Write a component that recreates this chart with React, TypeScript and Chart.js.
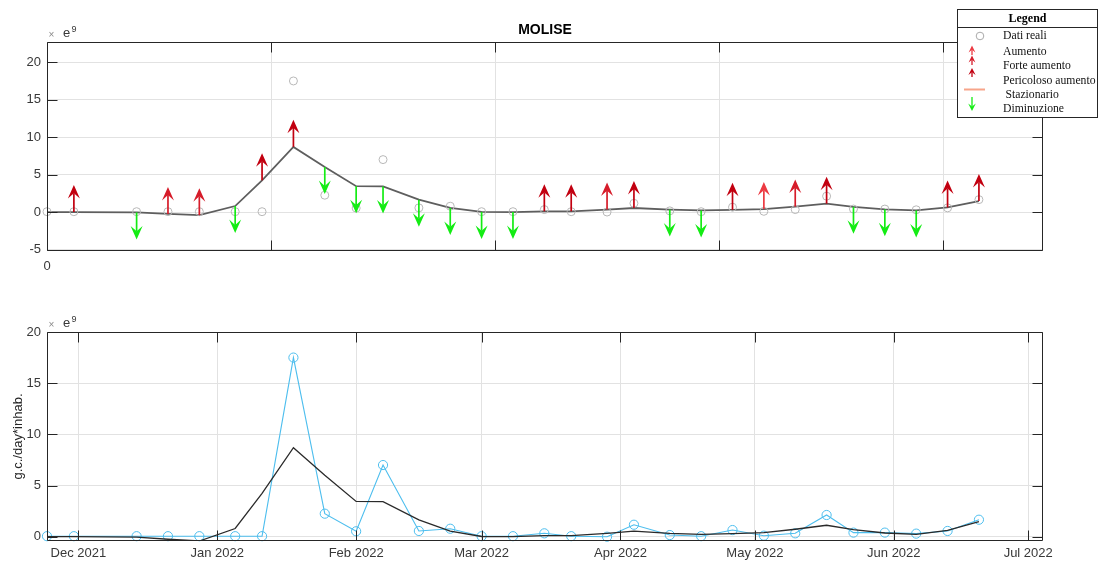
import React, { useEffect, useRef } from 'react';
import { Chart, registerables } from 'chart.js';

Chart.register(...registerables);

// ---------- data ----------
const START_DATE = '2021-11-24';
const END_DATE = '2022-07-04';
const SAMPLE_DATES = [
  '2021-11-24', '2021-11-30', '2021-12-14', '2021-12-21', '2021-12-28',
  '2022-01-05', '2022-01-11', '2022-01-18', '2022-01-25', '2022-02-01',
  '2022-02-07', '2022-02-15', '2022-02-22', '2022-03-01', '2022-03-08',
  '2022-03-15', '2022-03-21', '2022-03-29', '2022-04-04', '2022-04-12',
  '2022-04-19', '2022-04-26', '2022-05-03', '2022-05-10', '2022-05-17',
  '2022-05-23', '2022-05-30', '2022-06-06', '2022-06-13', '2022-06-20',
];
// values in units of 1e9 g.c./day*inhab.
const REAL_VALUES = [
  0.05, 0.05, 0.05, 0.05, 0.05, 0.05, 0.05, 17.5, 2.25, 0.53,
  7.0, 0.56, 0.78, 0.05, 0.05, 0.33, 0.05, 0.0, 1.17, 0.16,
  0.05, 0.65, 0.1, 0.33, 2.12, 0.4, 0.4, 0.3, 0.56, 1.66,
];
const TREND_VALUES = [
  0.0, 0.0, -0.05, -0.25, -0.42, 0.8, 4.24, 8.7, 6.0, 3.45,
  3.42, 1.65, 0.55, 0.02, 0.0, 0.1, 0.1, 0.33, 0.54, 0.33,
  0.22, 0.3, 0.4, 0.73, 1.12, 0.7, 0.36, 0.22, 0.62, 1.47,
];
// A = Aumento, F = Forte aumento, P = Pericoloso aumento, D = Diminuzione, '' = none
const SIGNALS = [
  '', 'P', 'D', 'F', 'F', 'D', 'P', 'P', 'D', 'D',
  'D', 'D', 'D', 'D', 'D', 'P', 'P', 'F', 'P', 'D',
  'D', 'P', 'A', 'F', 'P', 'D', 'D', 'D', 'P', 'P',
];
const MONTH_TICKS = [
  '2021-12-01', '2022-01-01', '2022-02-01', '2022-03-01',
  '2022-04-01', '2022-05-01', '2022-06-01', '2022-07-01',
];
const MONTH_NAMES = ['Jan', 'Feb', 'Mar', 'Apr', 'May', 'Jun', 'Jul', 'Aug', 'Sep', 'Oct', 'Nov', 'Dec'];
const TOP_X_TICKS = [0, 50, 100, 150, 200];
const TOP_Y_TICKS = [-5, 0, 5, 10, 15, 20];
const BOTTOM_Y_TICKS = [0, 5, 10, 15, 20];
const TOP_Y_RANGE = [-5.2, 22.7];
const BOTTOM_Y_RANGE = [-0.42, 20];
const LEGEND_TITLE = 'Legend';
const LEGEND_LABELS = ['Dati reali', 'Aumento', 'Forte aumento', 'Pericoloso aumento', 'Stazionario', 'Diminuzione'];
const TITLE = 'MOLISE';
const Y_LABEL = 'g.c./day*inhab.';
const EXPONENT = '9';

// ---------- styles ----------
const SANS = '"Liberation Sans", Arial, Helvetica, sans-serif';
const SERIF = '"Liberation Serif", "Times New Roman", serif';
const AXIS_COLOR = '#262626';
const TEXT_COLOR = '#383838';
const GRID_COLOR = '#e2e2e2';
const SIGNAL_COLORS: Record<string, string> = {
  A: '#ec3a42',
  F: '#d61c2a',
  P: '#c20010',
  D: '#14ec14',
};
const STAZ_COLOR = '#f7a58a';
const W = 1099;
const H_TOP = 283;
const H_BOT = 283;

const DAY_MS = 86400000;
const parseUTC = (s: string) => {
  const [y, m, d] = s.split('-').map(Number);
  return Date.UTC(y, m - 1, d);
};
const BASE = parseUTC(START_DATE);
const toDay = (s: string) => (parseUTC(s) - BASE) / DAY_MS;
const X_MAX = toDay(END_DATE) + 0.3;
const dayLabel = (v: number) => {
  const d = new Date(BASE + Math.round(v) * DAY_MS);
  return `${MONTH_NAMES[d.getUTCMonth()]} ${d.getUTCFullYear()}`;
};

function drawArrow(
  ctx: CanvasRenderingContext2D, x: number, y0: number, len: number, dir: number,
  color: string, headLen: number, headHalf: number, shaftW: number,
) {
  const tipY = y0 + dir * len;
  const baseY = tipY - dir * headLen;
  const notchY = tipY - dir * headLen * 0.6;
  ctx.strokeStyle = color;
  ctx.lineWidth = shaftW;
  ctx.beginPath();
  ctx.moveTo(x, y0);
  ctx.lineTo(x, notchY);
  ctx.stroke();
  ctx.fillStyle = color;
  ctx.beginPath();
  ctx.moveTo(x, tipY);
  ctx.lineTo(x - headHalf, baseY);
  ctx.lineTo(x, notchY);
  ctx.lineTo(x + headHalf, baseY);
  ctx.closePath();
  ctx.fill();
}

function makeFramePlugin(xTicks: () => number[], yTicks: number[]) {
  return {
    id: 'frame',
    afterDatasetsDraw(chart: any) {
      const { ctx, chartArea: a, scales } = chart;
      const l = Math.round(a.left) + 0.5;
      const r = Math.round(a.right) - 0.5;
      const t = Math.round(a.top) + 0.5;
      const b = Math.round(a.bottom) - 0.5;
      ctx.save();
      ctx.strokeStyle = AXIS_COLOR;
      ctx.lineWidth = 1;
      ctx.beginPath();
      ctx.rect(l, t, r - l, b - t);
      for (const v of xTicks()) {
        const px = Math.round(scales.x.getPixelForValue(v)) + 0.5;
        ctx.moveTo(px, b); ctx.lineTo(px, b - 10);
        ctx.moveTo(px, t); ctx.lineTo(px, t + 10);
      }
      for (const v of yTicks) {
        const py = Math.round(scales.y.getPixelForValue(v)) + 0.5;
        ctx.moveTo(l, py); ctx.lineTo(l + 10, py);
        ctx.moveTo(r, py); ctx.lineTo(r - 10, py);
      }
      ctx.stroke();
      ctx.restore();
    },
  };
}

function drawExponent(ctx: CanvasRenderingContext2D, left: number, top: number) {
  ctx.save();
  ctx.fillStyle = '#8a8a8a';
  ctx.font = `10px ${SANS}`;
  ctx.textAlign = 'left';
  ctx.textBaseline = 'alphabetic';
  ctx.fillText('\u00d7', left + 1.5, top - 4.5);
  ctx.fillStyle = TEXT_COLOR;
  ctx.font = `13px ${SANS}`;
  ctx.fillText('e', left + 16, top - 4.7);
  ctx.font = `9px ${SANS}`;
  ctx.fillText(EXPONENT, left + 24.5, top - 10);
  ctx.restore();
}

const arrowsPlugin = {
  id: 'arrows',
  afterDatasetsDraw(chart: any) {
    const { ctx } = chart;
    const meta = chart.getDatasetMeta(0);
    ctx.save();
    meta.data.forEach((pt: any, i: number) => {
      const s = SIGNALS[i];
      if (!s) return;
      const dir = s === 'D' ? 1 : -1;
      drawArrow(ctx, pt.x, pt.y, 27, dir, SIGNAL_COLORS[s], 13.5, 6, 1.7);
    });
    ctx.restore();
  },
};

const topTextPlugin = {
  id: 'topText',
  afterDraw(chart: any) {
    const { ctx, chartArea: a } = chart;
    ctx.save();
    ctx.fillStyle = '#000';
    ctx.font = `bold 14px ${SANS}`;
    ctx.textAlign = 'center';
    ctx.textBaseline = 'middle';
    ctx.fillText(TITLE, (a.left + a.right) / 2, 30);
    ctx.restore();
    drawExponent(ctx, a.left, a.top);

    // legend box
    const bx = 957.5, by = 9.5, bw = 140, bh = 108;
    ctx.save();
    ctx.fillStyle = '#fff';
    ctx.fillRect(bx, by, bw, bh);
    ctx.strokeStyle = AXIS_COLOR;
    ctx.lineWidth = 1;
    ctx.strokeRect(bx, by, bw, bh);
    ctx.beginPath();
    ctx.moveTo(bx, 27.5);
    ctx.lineTo(bx + bw, 27.5);
    ctx.stroke();
    ctx.fillStyle = '#000';
    ctx.font = `bold 12px ${SERIF}`;
    ctx.textAlign = 'center';
    ctx.textBaseline = 'middle';
    ctx.fillText(LEGEND_TITLE, bx + bw / 2, 18.5);

    // icons
    ctx.strokeStyle = '#aaaaaa';
    ctx.lineWidth = 1;
    ctx.beginPath();
    ctx.arc(980, 36, 3.8, 0, Math.PI * 2);
    ctx.stroke();
    drawArrow(ctx, 972, 55, 9.5, -1, SIGNAL_COLORS.A, 7, 3.4, 1.3);
    drawArrow(ctx, 972, 65, 9.5, -1, SIGNAL_COLORS.F, 7, 3.4, 1.3);
    drawArrow(ctx, 972, 77, 9, -1, SIGNAL_COLORS.P, 7, 3.6, 1.3);
    ctx.strokeStyle = STAZ_COLOR;
    ctx.lineWidth = 2;
    ctx.beginPath();
    ctx.moveTo(964, 89.5);
    ctx.lineTo(985, 89.5);
    ctx.stroke();
    drawArrow(ctx, 972, 97, 14, 1, SIGNAL_COLORS.D, 7.5, 3.8, 1.3);

    ctx.fillStyle = '#111';
    ctx.font = `11.7px ${SERIF}`;
    ctx.textAlign = 'left';
    const ys = [36, 51.5, 66, 80.7, 95, 109.3];
    LEGEND_LABELS.forEach((t, i) => {
      ctx.fillText(t, i === 4 ? 1005.5 : 1003, ys[i]);
    });
    ctx.restore();
  },
};

const bottomTextPlugin = {
  id: 'bottomText',
  afterDraw(chart: any) {
    const { ctx, chartArea: a } = chart;
    drawExponent(ctx, a.left, a.top);
  },
};

const tickFont = { family: SANS, size: 13 };

function topConfig(): any {
  const xs = SAMPLE_DATES.map(toDay);
  return {
    type: 'scatter',
    data: {
      datasets: [
        {
          label: 'Trend',
          data: xs.map((x, i) => ({ x, y: TREND_VALUES[i] })),
          showLine: true,
          borderColor: '#5e5e5e',
          borderWidth: 1.8,
          pointRadius: 0,
          pointHoverRadius: 0,
          order: 2,
        },
        {
          label: 'Dati reali',
          data: xs.map((x, i) => ({ x, y: REAL_VALUES[i] })),
          showLine: false,
          pointStyle: 'circle',
          pointRadius: 4,
          pointBorderColor: '#b8b8b8',
          pointBackgroundColor: 'rgba(0,0,0,0)',
          pointBorderWidth: 1,
          clip: false,
          order: 1,
        },
      ],
    },
    options: {
      responsive: false,
      animation: false,
      events: [],
      layout: { padding: { left: 0, right: W - 1043, top: 42, bottom: 0 } },
      plugins: { legend: { display: false }, title: { display: false }, tooltip: { enabled: false } },
      scales: {
        x: {
          type: 'linear',
          min: 0,
          max: X_MAX,
          afterBuildTicks: (s: any) => { s.ticks = TOP_X_TICKS.map((v) => ({ value: v })); },
          afterFit: (s: any) => { s.height = H_TOP - 251; },
          ticks: {
            autoSkip: false, maxRotation: 0, padding: 8, font: tickFont, color: TEXT_COLOR,
            callback: (v: number) => (v === 0 ? '0' : ''),
          },
          grid: { color: GRID_COLOR, drawTicks: false },
          border: { display: false },
        },
        y: {
          type: 'linear',
          min: TOP_Y_RANGE[0],
          max: TOP_Y_RANGE[1],
          afterBuildTicks: (s: any) => { s.ticks = TOP_Y_TICKS.map((v) => ({ value: v })); },
          afterFit: (s: any) => { s.width = 47; },
          ticks: { padding: 6, font: tickFont, color: TEXT_COLOR, callback: (v: number) => String(v) },
          grid: { color: GRID_COLOR, drawTicks: false },
          border: { display: false },
        },
      },
    },
    plugins: [makeFramePlugin(() => TOP_X_TICKS, TOP_Y_TICKS), arrowsPlugin, topTextPlugin],
  };
}

function bottomConfig(): any {
  const xs = SAMPLE_DATES.map(toDay);
  const monthDays = MONTH_TICKS.map(toDay);
  return {
    type: 'scatter',
    data: {
      datasets: [
        {
          label: 'Trend',
          data: xs.map((x, i) => ({ x, y: TREND_VALUES[i] })),
          showLine: true,
          borderColor: '#2a2a2a',
          borderWidth: 1.3,
          pointRadius: 0,
          pointHoverRadius: 0,
          order: 1,
        },
        {
          label: 'Dati reali',
          data: xs.map((x, i) => ({ x, y: REAL_VALUES[i] })),
          showLine: true,
          borderColor: '#4dbeee',
          borderWidth: 1.1,
          pointStyle: 'circle',
          pointRadius: 4.6,
          pointBorderColor: '#4dbeee',
          pointBackgroundColor: 'rgba(0,0,0,0)',
          pointBorderWidth: 1,
          clip: false,
          order: 2,
        },
      ],
    },
    options: {
      responsive: false,
      animation: false,
      events: [],
      layout: { padding: { left: 0, right: W - 1043, top: 332 - H_TOP, bottom: 0 } },
      plugins: { legend: { display: false }, title: { display: false }, tooltip: { enabled: false } },
      scales: {
        x: {
          type: 'linear',
          min: 0,
          max: X_MAX,
          afterBuildTicks: (s: any) => { s.ticks = monthDays.map((v) => ({ value: v })); },
          afterFit: (s: any) => { s.height = H_TOP + H_BOT - 541; },
          ticks: {
            autoSkip: false, maxRotation: 0, padding: 5, font: tickFont, color: TEXT_COLOR,
            callback: (v: number) => dayLabel(v),
          },
          grid: { color: GRID_COLOR, drawTicks: false },
          border: { display: false },
        },
        y: {
          type: 'linear',
          min: BOTTOM_Y_RANGE[0],
          max: BOTTOM_Y_RANGE[1],
          afterBuildTicks: (s: any) => { s.ticks = BOTTOM_Y_TICKS.map((v) => ({ value: v })); },
          afterFit: (s: any) => { s.width = 47; },
          title: {
            display: true, text: Y_LABEL, color: AXIS_COLOR,
            font: { family: SANS, size: 13 }, padding: { top: 11, bottom: 0 },
          },
          ticks: { padding: 6, font: tickFont, color: TEXT_COLOR, callback: (v: number) => String(v) },
          grid: { color: GRID_COLOR, drawTicks: false },
          border: { display: false },
        },
      },
    },
    plugins: [makeFramePlugin(() => monthDays, BOTTOM_Y_TICKS), bottomTextPlugin],
  };
}

export default function App() {
  const topRef = useRef<HTMLCanvasElement>(null);
  const botRef = useRef<HTMLCanvasElement>(null);
  useEffect(() => {
    const c1 = new Chart(topRef.current as HTMLCanvasElement, topConfig());
    const c2 = new Chart(botRef.current as HTMLCanvasElement, bottomConfig());
    return () => {
      c1.destroy();
      c2.destroy();
    };
  }, []);
  return (
    <div style={{ position: 'absolute', left: 0, top: 0, width: W, height: H_TOP + H_BOT, background: '#fff' }}>
      <canvas ref={topRef} width={W} height={H_TOP} style={{ display: 'block', width: W, height: H_TOP }} />
      <canvas ref={botRef} width={W} height={H_BOT} style={{ display: 'block', width: W, height: H_BOT }} />
    </div>
  );
}
